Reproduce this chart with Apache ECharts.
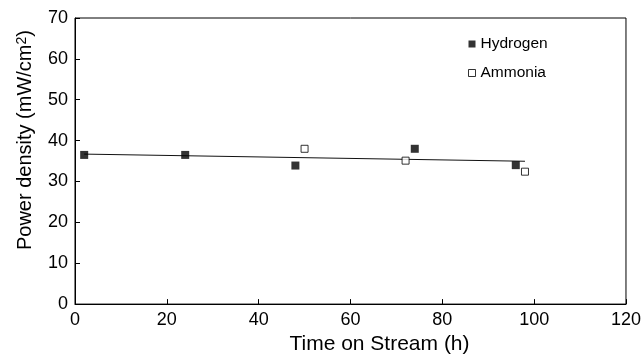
<!DOCTYPE html>
<html>
<head>
<meta charset="utf-8">
<script src="https://cdn.jsdelivr.net/npm/echarts@6/dist/echarts.min.js"></script>
<style>html,body{margin:0;padding:0;background:#fff}#c{width:644px;height:360px}</style>
</head>
<body>
<div id="c"></div>
<script>
const hydrogenX = [2, 24, 48, 74, 96];
const hydrogenY = [36.5, 36.5, 33.9, 38.0, 34.0];
const ammoniaX = [50, 72, 98];
const ammoniaY = [38.0, 35.1, 32.4];
const fitX = [2, 98];
const fitY = [36.7, 34.95];
const xTicks = [0, 20, 40, 60, 80, 100, 120];
const yTicks = [0, 10, 20, 30, 40, 50, 60, 70];

const FONT = "'Liberation Sans', Arial, Helvetica, sans-serif";
const zip = (a, b) => a.map((v, i) => [v, b[i]]);

const chart = echarts.init(document.getElementById('c'), null, {renderer: 'canvas'});
chart.setOption({
  animation: false,
  backgroundColor: '#fff',
  textStyle: {fontFamily: FONT, color: '#000'},
  grid: {left: 75, right: 17, top: 18, bottom: 52, show: true, borderColor: '#000', borderWidth: 1, backgroundColor: 'transparent'},
  legend: {
    orient: 'vertical', left: 463, top: 31, itemWidth: 7, itemHeight: 7, itemGap: 13,
    textStyle: {fontFamily: FONT, fontSize: 15.5, color: '#000'},
    data: [
      {name: 'Hydrogen', icon: 'rect', itemStyle: {color: '#000', borderWidth: 0}},
      {name: 'Ammonia', icon: 'rect', itemStyle: {color: '#fff', borderColor: '#000', borderWidth: 1}}
    ]
  },
  xAxis: {
    type: 'value', min: xTicks[0], max: xTicks[xTicks.length - 1], interval: 20,
    name: 'Time on Stream (h)', nameLocation: 'middle', nameGap: 29,
    nameTextStyle: {fontFamily: FONT, fontSize: 21, color: '#000', padding: [0, 0, 0, 58]},
    axisLine: {show: true, lineStyle: {color: '#000', width: 1}},
    axisTick: {show: true, inside: true, length: 5, lineStyle: {color: '#000'}},
    axisLabel: {fontFamily: FONT, fontSize: 18, color: '#000', margin: 7},
    splitLine: {show: false}
  },
  yAxis: {
    type: 'value', min: yTicks[0], max: yTicks[yTicks.length - 1], interval: 10,
    name: 'Power density (mW/cm{sup|2})', nameLocation: 'middle', nameGap: 40, nameRotate: 90,
    nameTextStyle: {
      fontFamily: FONT, fontSize: 20, color: '#000', padding: [0, 0, 0, 42],
      rich: {sup: {fontFamily: FONT, fontSize: 14, color: '#000', verticalAlign: 'top', lineHeight: 14}}
    },
    axisLine: {show: true, lineStyle: {color: '#000', width: 1}},
    axisTick: {show: true, inside: true, length: 5, lineStyle: {color: '#000'}},
    axisLabel: {fontFamily: FONT, fontSize: 18, color: '#000', margin: 7},
    splitLine: {show: false}
  },
  series: [
    {
      name: 'Fit', type: 'line', data: zip(fitX, fitY), symbol: 'none',
      lineStyle: {color: '#111', width: 1}, z: 1, silent: true
    },
    {
      name: 'Hydrogen', type: 'scatter', data: zip(hydrogenX, hydrogenY),
      symbol: 'rect', symbolSize: 8, itemStyle: {color: '#000'}, z: 3
    },
    {
      name: 'Ammonia', type: 'scatter', data: zip(ammoniaX, ammoniaY),
      symbol: 'rect', symbolSize: 7, itemStyle: {color: '#fff', borderColor: '#000', borderWidth: 1}, z: 3
    }
  ]
});
</script>
</body>
</html>
